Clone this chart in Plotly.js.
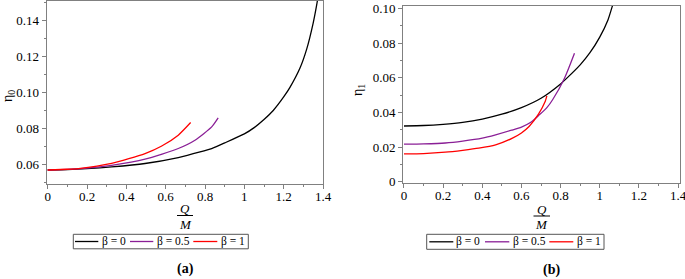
<!DOCTYPE html>
<html>
<head>
<meta charset="utf-8">
<script src="https://cdn.plot.ly/plotly-3.0.1.min.js"></script>
<style>html,body{margin:0;padding:0;background:#fff;}#chart{width:685px;height:279px;}</style>
</head>
<body>
<div id="chart"></div>
<script>
// Panel (a): eta_0 vs Q/M
const a_b0_x = [0, 0.1, 0.2, 0.325, 0.495, 0.664, 0.775, 0.834, 0.9, 1.0, 1.05, 1.1, 1.147, 1.2, 1.232, 1.283, 1.317, 1.35, 1.367, 1.38];
const a_b0_y = [0.0570, 0.0572, 0.0577, 0.0587, 0.0606, 0.0639, 0.0670, 0.0689, 0.0720, 0.0770, 0.0805, 0.0850, 0.0900, 0.0975, 0.1028, 0.1135, 0.1240, 0.1385, 0.1480, 0.1565];
const a_b05_x = [0, 0.1, 0.2, 0.325, 0.495, 0.664, 0.749, 0.834, 0.867];
const a_b05_y = [0.0570, 0.0573, 0.0580, 0.0596, 0.0630, 0.0689, 0.0735, 0.0809, 0.0859];
const a_b1_x = [0, 0.1, 0.156, 0.325, 0.495, 0.58, 0.664, 0.727];
const a_b1_y = [0.0570, 0.0574, 0.0578, 0.0606, 0.0661, 0.0703, 0.0763, 0.0833];

// Panel (b): eta_1 vs Q/M
const b_b0_x = [0, 0.1, 0.2, 0.3, 0.4, 0.5, 0.6, 0.7, 0.8, 0.828, 0.9, 0.95, 1.0, 1.042, 1.065, 1.075];
const b_b0_y = [0.0322, 0.0325, 0.0332, 0.0343, 0.0362, 0.0390, 0.0428, 0.0482, 0.0565, 0.0594, 0.0675, 0.0745, 0.0835, 0.0934, 0.1016, 0.1055];
const b_b05_x = [0, 0.1, 0.211, 0.3, 0.4, 0.468, 0.55, 0.6, 0.65, 0.69, 0.73, 0.76, 0.82, 0.871];
const b_b05_y = [0.0217, 0.0219, 0.0224, 0.0235, 0.0252, 0.0271, 0.0298, 0.0316, 0.0345, 0.0385, 0.0428, 0.0475, 0.0598, 0.0742];
const b_b1_x = [0, 0.1, 0.211, 0.3, 0.382, 0.468, 0.554, 0.6, 0.639, 0.687, 0.72, 0.73];
const b_b1_y = [0.0161, 0.0163, 0.0171, 0.0182, 0.0194, 0.0213, 0.0252, 0.0282, 0.0319, 0.0390, 0.0460, 0.0496];

const seriesNames = ['β = 0', 'β = 0.5', 'β = 1'];
const seriesColors = ['#000000', '#8a1f96', '#ff0000'];

const xTickVals = [0, 0.2, 0.4, 0.6, 0.8, 1, 1.2, 1.4];
const xTickText = ['0', '0.2', '0.4', '0.6', '0.8', '1', '1.2', '1.4'];
const yaTickVals = [0.06, 0.08, 0.10, 0.12, 0.14];
const yaTickText = ['0.06', '0.08', '0.10', '0.12', '0.14'];
const ybTickVals = [0, 0.02, 0.04, 0.06, 0.08, 0.10];
const ybTickText = ['0', '0.02', '0.04', '0.06', '0.08', '0.10'];

const W = 685, H = 279;
const px = v => v / W;
const py = v => 1 - v / H;

const serif = '"Liberation Serif", "Times New Roman", Times, serif';
const lw = 1.3;

function tr(x, y, i, xa, ya) {
  return {
    x: x, y: y, type: 'scatter', mode: 'lines', name: seriesNames[i],
    line: {color: seriesColors[i], width: lw, shape: 'spline', smoothing: 0.6},
    xaxis: xa, yaxis: ya, showlegend: false, hoverinfo: 'skip'
  };
}

const data = [
  tr(a_b0_x, a_b0_y, 0, 'x', 'y'),
  tr(a_b05_x, a_b05_y, 1, 'x', 'y'),
  tr(a_b1_x, a_b1_y, 2, 'x', 'y'),
  tr(b_b0_x, b_b0_y, 0, 'x2', 'y2'),
  tr(b_b05_x, b_b05_y, 1, 'x2', 'y2'),
  tr(b_b1_x, b_b1_y, 2, 'x2', 'y2')
];

const axLine = '#808080';
function xAxis(domain, anchor, range) {
  return {
    domain: domain, anchor: anchor, range: range,
    showline: true, linecolor: axLine, linewidth: 1, mirror: true,
    showgrid: false, zeroline: false,
    ticks: 'outside', ticklen: 4, tickcolor: axLine, tickwidth: 1,
    tickvals: xTickVals, ticktext: xTickText, ticklabeloverflow: 'allow',
    ticklabelstandoff: -3,
    tickfont: {family: serif, size: 13, color: '#000'},
    minor: {tickvals: [0.1, 0.3, 0.5, 0.7, 0.9, 1.1, 1.3], ticks: 'outside', ticklen: 2, tickcolor: axLine, showgrid: false},
    fixedrange: true
  };
}
function yAxis(domain, anchor, range, tv, tt, minorVals) {
  return {
    domain: domain, anchor: anchor, range: range,
    showline: true, linecolor: axLine, linewidth: 1, mirror: true,
    showgrid: false, zeroline: false,
    ticks: 'outside', ticklen: 4, tickcolor: axLine, tickwidth: 1,
    tickvals: tv, ticktext: tt, ticklabeloverflow: 'allow',
    tickfont: {family: serif, size: 13, color: '#000'},
    minor: {tickvals: minorVals, ticks: 'outside', ticklen: 2, tickcolor: axLine, showgrid: false},
    fixedrange: true
  };
}

// Legend boxes drawn as paper-space decorations (not data marks)
const legendDefs = [
  {box: [73.3, 248.3, 234.3, 248.8], yc: 241.5,
   lines: [[75, 98.3], [130, 153.3], [193.3, 217.3]], texts: [113.8, 173.3, 233.3]},
  {box: [426.7, 604, 234.3, 249.3], yc: 241.8,
   lines: [[429.3, 453.3], [485, 509.3], [549.3, 573.3]], texts: [468.3, 529.2, 589.2]}
];

const annotations = [
  {xref: 'paper', yref: 'paper', x: px(8), y: py(96), text: 'η<sub>0</sub>', showarrow: false, textangle: -90, font: {family: serif, size: 14, color: '#000'}, xanchor: 'center', yanchor: 'middle'},
  {xref: 'paper', yref: 'paper', x: px(359), y: py(90), text: 'η<sub>1</sub>', showarrow: false, textangle: -90, font: {family: serif, size: 14, color: '#000'}, xanchor: 'center', yanchor: 'middle'},
  {xref: 'paper', yref: 'paper', x: px(185), y: py(208), text: '<i>Q</i>', showarrow: false, font: {family: serif, size: 13, color: '#000'}, xanchor: 'center', yanchor: 'middle'},
  {xref: 'paper', yref: 'paper', x: px(185), y: py(224), text: '<i>M</i>', showarrow: false, font: {family: serif, size: 13, color: '#000'}, xanchor: 'center', yanchor: 'middle'},
  {xref: 'paper', yref: 'paper', x: px(541.7), y: py(209), text: '<i>Q</i>', showarrow: false, font: {family: serif, size: 13, color: '#000'}, xanchor: 'center', yanchor: 'middle'},
  {xref: 'paper', yref: 'paper', x: px(541.7), y: py(224.5), text: '<i>M</i>', showarrow: false, font: {family: serif, size: 13, color: '#000'}, xanchor: 'center', yanchor: 'middle'},
  {xref: 'paper', yref: 'paper', x: px(185.7), y: py(269), text: '<b>(a)</b>', showarrow: false, font: {family: serif, size: 14, color: '#000'}, xanchor: 'center', yanchor: 'middle'},
  {xref: 'paper', yref: 'paper', x: px(551.7), y: py(270), text: '<b>(b)</b>', showarrow: false, font: {family: serif, size: 14, color: '#000'}, xanchor: 'center', yanchor: 'middle'}
];
const shapes = [
  {type: 'line', xref: 'paper', yref: 'paper', x0: px(177), x1: px(193), y0: py(215.5), y1: py(215.5), line: {color: '#000', width: 1}},
  {type: 'line', xref: 'paper', yref: 'paper', x0: px(533.5), x1: px(550), y0: py(216), y1: py(216), line: {color: '#000', width: 1}}
];
legendDefs.forEach(L => {
  shapes.push({type: 'rect', xref: 'paper', yref: 'paper', x0: px(L.box[0]), x1: px(L.box[1]), y0: py(L.box[3]), y1: py(L.box[2]), line: {color: '#555', width: 1}, fillcolor: 'rgba(0,0,0,0)'});
  L.lines.forEach((ln, i) => {
    shapes.push({type: 'line', xref: 'paper', yref: 'paper', x0: px(ln[0]), x1: px(ln[1]), y0: py(L.yc), y1: py(L.yc), line: {color: seriesColors[i], width: 1.3}});
  });
  L.texts.forEach((tx, i) => {
    annotations.push({xref: 'paper', yref: 'paper', x: px(tx), y: py(L.yc), text: seriesNames[i], showarrow: false, font: {family: serif, size: 11.5, color: '#000'}, xanchor: 'center', yanchor: 'middle'});
  });
});

const layout = {
  width: W, height: H,
  margin: {l: 0, r: 0, t: 0, b: 0},
  paper_bgcolor: '#fff', plot_bgcolor: '#fff',
  font: {family: serif, size: 13, color: '#000'},
  showlegend: false,
  xaxis: xAxis([px(46.7), px(323)], 'y', [-0.005, 1.4]),
  yaxis: yAxis([py(183.5), py(0.5)], 'x', [0.0495, 0.151], yaTickVals, yaTickText, [0.05, 0.07, 0.09, 0.11, 0.13, 0.15]),
  xaxis2: xAxis([px(403), px(680)], 'y2', [-0.005, 1.41]),
  yaxis2: yAxis([py(182.7), py(5.7)], 'x2', [-0.0005, 0.1016], ybTickVals, ybTickText, [0.01, 0.03, 0.05, 0.07, 0.09]),
  annotations: annotations,
  shapes: shapes
};

Plotly.newPlot('chart', data, layout, {staticPlot: true, displayModeBar: false});
</script>
</body>
</html>
